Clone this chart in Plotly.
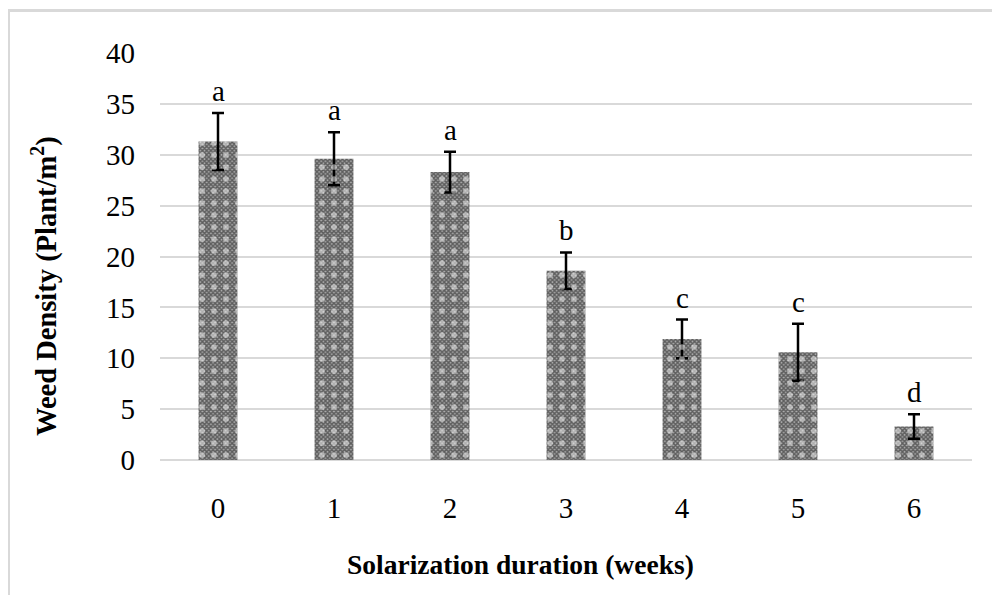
import plotly.graph_objects as go

weeks = ["0", "1", "2", "3", "4", "5", "6"]
density = [31.3, 29.6, 28.3, 18.6, 11.9, 10.6, 3.3]
errors = [2.8, 2.6, 2.0, 1.8, 1.9, 2.8, 1.2]
letters = ["a", "a", "a", "b", "c", "c", "d"]
y_ticks = [0, 5, 10, 15, 20, 25, 30, 35, 40]

FONT = "Liberation Serif, Times New Roman, serif"
OFF = 8  # page body margin
W, H = 1000 - OFF, 595 - OFF
# plot area in page pixels
PL, PR, PT, PB = 160, 972, 53, 460
L, R, T, B = PL - OFF, W - (PR - OFF), PT - OFF, H - (PB - OFF)
pw, ph = W - L - R, H - T - B

def px(x):  # page x -> paper
    return (x - PL) / pw

def py(y):  # page y -> paper
    return (PB - y) / ph

fig = go.Figure()
fig.add_trace(go.Bar(
    x=weeks, y=density,
    marker=dict(color="#8a8a8a", line=dict(width=0),
                pattern=dict(shape="x", size=3, solidity=0.7,
                             fgcolor="#101010", bgcolor="#ababab")),
    error_y=dict(type="data", array=errors, color="black", thickness=2.5, width=6),
    hoverinfo="skip",
))
fig.add_trace(go.Bar(
    x=weeks, y=density,
    marker=dict(color="rgba(0,0,0,0)", line=dict(width=0),
                pattern=dict(shape=".", size=12, solidity=0.18,
                             fgcolor="white", bgcolor="rgba(0,0,0,0)", fillmode="overlay")),
    hoverinfo="skip",
))

for w, v, e, t in zip(weeks, density, errors, letters):
    fig.add_annotation(x=w, y=v + e, text=t, showarrow=False, yanchor="bottom",
                       yshift=4, font=dict(family=FONT, size=29, color="black"))

fig.add_annotation(xref="paper", yref="paper", x=px(520), y=py(564),
                   text="<b>Solarization duration (weeks)</b>", showarrow=False,
                   xanchor="center", yanchor="middle",
                   font=dict(family=FONT, size=27.5, color="black"))
fig.add_annotation(xref="paper", yref="paper", x=px(44), y=py(286),
                   text="<b>Weed Density (Plant/m<sup>2</sup>)</b>", showarrow=False,
                   textangle=-90, xanchor="center", yanchor="middle",
                   font=dict(family=FONT, size=28.5, color="black"))

# outer frame (left and top edges visible)
fig.add_shape(type="line", xref="paper", yref="paper", x0=px(8.5), x1=px(8.5),
              y0=py(600), y1=py(9), line=dict(color="#d9d9d9", width=3))
fig.add_shape(type="line", xref="paper", yref="paper", x0=px(7), x1=px(1005),
              y0=py(10.5), y1=py(10.5), line=dict(color="#d9d9d9", width=3))

fig.update_layout(
    width=W, height=H,
    margin=dict(l=L, r=R, t=T, b=B, pad=0),
    paper_bgcolor="white", plot_bgcolor="white",
    barmode="overlay", bargap=0.665, showlegend=False,
    font=dict(family=FONT, size=29, color="black"),
)
fig.update_xaxes(showgrid=False, showline=False, ticks="", ticklabelstandoff=28,
                 tickfont=dict(family=FONT, size=29, color="black"))
fig.update_yaxes(range=[0, 40], tickvals=y_ticks, showgrid=True, gridcolor="#d9d9d9",
                 gridwidth=1.5, zeroline=True, zerolinecolor="#d9d9d9", zerolinewidth=1.5,
                 showline=False, ticks="", ticklabelstandoff=24,
                 tickfont=dict(family=FONT, size=29, color="black"))

fig.write_html("out.html")
